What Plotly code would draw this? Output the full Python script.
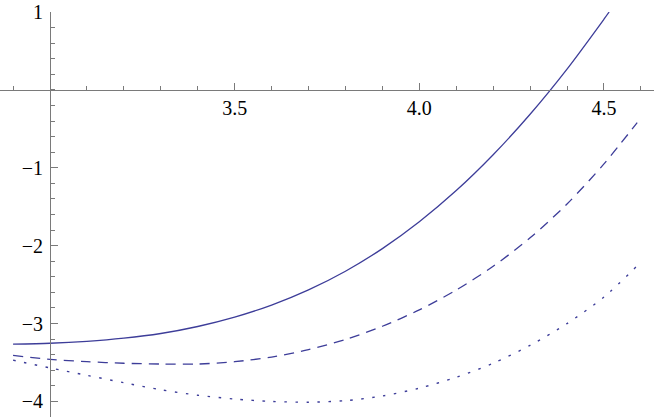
import plotly.graph_objects as go

# Data
x_solid = [2.9, 3.0, 3.1, 3.2, 3.3, 3.4, 3.5, 3.6, 3.7, 3.8, 3.9, 4.0, 4.1, 4.2, 4.3, 4.4, 4.5, 4.514]
y_solid = [-3.265, -3.253, -3.228, -3.188, -3.128, -3.038, -2.918, -2.763, -2.568, -2.328, -2.038,
           -1.693, -1.293, -0.833, -0.313, 0.267, 0.907, 1.0]

x_dashed = [2.9, 3.0, 3.1, 3.2, 3.3, 3.4, 3.5, 3.6, 3.7, 3.8, 3.9, 4.0, 4.1, 4.2, 4.3, 4.4, 4.5, 4.59]
y_dashed = [-3.41, -3.46, -3.49, -3.51, -3.52, -3.52, -3.49, -3.43, -3.335, -3.205, -3.035,
            -2.825, -2.57, -2.265, -1.90, -1.465, -0.95, -0.42]

x_dotted = [2.9, 3.0, 3.1, 3.2, 3.3, 3.4, 3.5, 3.6, 3.7, 3.8, 3.9, 4.0, 4.1, 4.2, 4.3, 4.4, 4.5, 4.595]
y_dotted = [-3.47, -3.57, -3.665, -3.76, -3.85, -3.92, -3.97, -4.00, -4.01, -3.99, -3.93,
            -3.83, -3.69, -3.51, -3.28, -3.00, -2.66, -2.235]

x_tickvals = [3.5, 4.0, 4.5]
x_ticktext = ["3.5", "4.0", "4.5"]
y_tickvals = [1, -1, -2, -3, -4]
y_ticktext = ["1", "\u22121", "\u22122", "\u22123", "\u22124"]

X_RANGE = [2.8646, 4.6355]
Y_RANGE = [-4.2, 1.0]
X_ORIGIN = 3.0
Y_ORIGIN = 0.0

COLOR = "#3d3d99"
AXIS_COLOR = "#7a7a7a"
FONT = dict(family="Times New Roman", size=20, color="#000000")

fig = go.Figure()
fig.add_trace(go.Scatter(x=x_solid, y=y_solid, mode="lines",
                         line=dict(color=COLOR, width=1.3, shape="spline", smoothing=0.8),
                         showlegend=False))
fig.add_trace(go.Scatter(x=x_dashed, y=y_dashed, mode="lines",
                         line=dict(color=COLOR, width=1.3, dash="10px,7px", shape="spline", smoothing=0.8),
                         showlegend=False))
fig.add_trace(go.Scatter(x=x_dotted, y=y_dotted, mode="lines",
                         line=dict(color=COLOR, width=1.4, dash="2.5px,8.5px", shape="spline", smoothing=0.8),
                         showlegend=False))

x_pos = (Y_ORIGIN - Y_RANGE[0]) / (Y_RANGE[1] - Y_RANGE[0])
y_pos = (X_ORIGIN - X_RANGE[0]) / (X_RANGE[1] - X_RANGE[0])

fig.update_layout(
    width=654, height=417,
    margin=dict(l=0, r=0, t=12, b=0, autoexpand=False),
    paper_bgcolor="white", plot_bgcolor="white",
    font=FONT,
    xaxis=dict(range=X_RANGE, anchor="free", position=x_pos, automargin=False,
               showgrid=False, zeroline=False,
               showline=True, linecolor=AXIS_COLOR, linewidth=1,
               tickmode="array", tickvals=x_tickvals, ticktext=x_ticktext,
               ticks="inside", ticklen=7, tickcolor=AXIS_COLOR, tickwidth=1,
               tickfont=FONT, ticklabelstandoff=0,
               minor=dict(dtick=0.1, tick0=3.0, ticks="inside", ticklen=4,
                          tickcolor=AXIS_COLOR, tickwidth=1, showgrid=False)),
    yaxis=dict(range=Y_RANGE, anchor="free", position=y_pos, automargin=False,
               showgrid=False, zeroline=False,
               showline=True, linecolor=AXIS_COLOR, linewidth=1,
               tickmode="array", tickvals=y_tickvals, ticktext=y_ticktext,
               ticks="inside", ticklen=7, tickcolor=AXIS_COLOR, tickwidth=1,
               tickfont=FONT, ticklabelstandoff=3,
               minor=dict(dtick=0.2, tick0=0.0, ticks="inside", ticklen=4,
                          tickcolor=AXIS_COLOR, tickwidth=1, showgrid=False)),
)

fig.write_html("out.html", config={"displayModeBar": False},
               post_script="document.body.style.margin='0';")
